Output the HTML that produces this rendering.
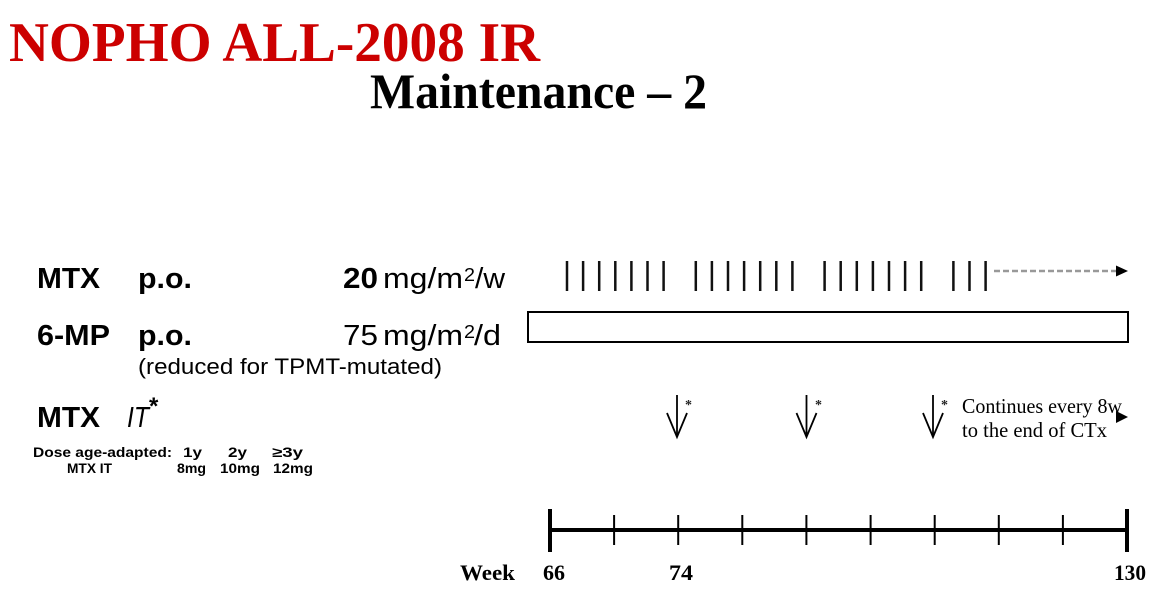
<!DOCTYPE html>
<html>
<head>
<meta charset="utf-8">
<style>
  html,body{margin:0;padding:0;background:#fff;}
  svg{display:block;}
  .serif{font-family:"Liberation Serif","Times New Roman",serif;font-weight:bold;}
  .sans{font-family:"Liberation Sans",Arial,sans-serif;}
</style>
</head>
<body>
<svg width="1158" height="594" viewBox="0 0 1158 594" xmlns="http://www.w3.org/2000/svg">
  <rect x="0" y="0" width="1158" height="594" fill="#fff"/>

  <!-- Titles -->
  <text class="serif" x="9" y="61" font-size="56" fill="#cc0000" textLength="531" lengthAdjust="spacingAndGlyphs">NOPHO ALL-2008 IR</text>
  <text class="serif" x="370" y="108" font-size="50" fill="#000" textLength="337" lengthAdjust="spacingAndGlyphs">Maintenance – 2</text>

  <!-- Row 1 -->
  <text class="sans" x="37" y="288" font-size="29" font-weight="bold" textLength="63" lengthAdjust="spacingAndGlyphs">MTX</text>
  <text class="sans" x="138" y="288" font-size="29" font-weight="bold" textLength="54" lengthAdjust="spacingAndGlyphs">p.o.</text>
  <text class="sans" x="343" y="288" font-size="29" font-weight="bold" textLength="35" lengthAdjust="spacingAndGlyphs">20</text>
  <text class="sans" x="383" y="288" font-size="29" textLength="80" lengthAdjust="spacingAndGlyphs">mg/m</text>
  <text class="sans" x="464" y="281" font-size="18" textLength="11" lengthAdjust="spacingAndGlyphs">2</text>
  <text class="sans" x="475" y="288" font-size="29" textLength="30" lengthAdjust="spacingAndGlyphs">/w</text>

  <!-- Row 2 -->
  <text class="sans" x="37" y="345" font-size="29" font-weight="bold" textLength="73" lengthAdjust="spacingAndGlyphs">6-MP</text>
  <text class="sans" x="138" y="345" font-size="29" font-weight="bold" textLength="54" lengthAdjust="spacingAndGlyphs">p.o.</text>
  <text class="sans" x="343" y="345" font-size="29" textLength="35" lengthAdjust="spacingAndGlyphs">75</text>
  <text class="sans" x="383" y="345" font-size="29" textLength="80" lengthAdjust="spacingAndGlyphs">mg/m</text>
  <text class="sans" x="464" y="338" font-size="18" textLength="11" lengthAdjust="spacingAndGlyphs">2</text>
  <text class="sans" x="474" y="345" font-size="29" textLength="27" lengthAdjust="spacingAndGlyphs">/d</text>
  <text class="sans" x="138" y="374" font-size="22" textLength="304" lengthAdjust="spacingAndGlyphs">(reduced for TPMT-mutated)</text>

  <!-- Row 3 -->
  <text class="sans" x="37" y="427" font-size="29" font-weight="bold" textLength="63" lengthAdjust="spacingAndGlyphs">MTX</text>
  <text class="sans" x="127" y="427" font-size="29" font-style="italic" textLength="22" lengthAdjust="spacingAndGlyphs">IT</text>
  <text class="sans" x="149" y="414" font-size="24" font-weight="bold">*</text>

  <!-- Small dose text -->
  <g class="sans" font-size="14" font-weight="bold" fill="#000">
    <text x="33" y="457" textLength="139" lengthAdjust="spacingAndGlyphs">Dose age-adapted:</text>
    <text x="183" y="457" textLength="19" lengthAdjust="spacingAndGlyphs">1y</text>
    <text x="228" y="457" textLength="19" lengthAdjust="spacingAndGlyphs">2y</text>
    <text x="272" y="457" textLength="31" lengthAdjust="spacingAndGlyphs">≥3y</text>
    <text x="67" y="473" textLength="45" lengthAdjust="spacingAndGlyphs">MTX IT</text>
    <text x="177" y="473" textLength="29" lengthAdjust="spacingAndGlyphs">8mg</text>
    <text x="220" y="473" textLength="40" lengthAdjust="spacingAndGlyphs">10mg</text>
    <text x="273" y="473" textLength="40" lengthAdjust="spacingAndGlyphs">12mg</text>
  </g>

  <!-- MTX weekly ticks -->
  <g stroke="#111" stroke-width="2.5">
    <line x1="567" y1="261" x2="567" y2="291"/>
    <line x1="583.1" y1="261" x2="583.1" y2="291"/>
    <line x1="599.2" y1="261" x2="599.2" y2="291"/>
    <line x1="615.3" y1="261" x2="615.3" y2="291"/>
    <line x1="631.4" y1="261" x2="631.4" y2="291"/>
    <line x1="647.5" y1="261" x2="647.5" y2="291"/>
    <line x1="663.6" y1="261" x2="663.6" y2="291"/>

    <line x1="695.8" y1="261" x2="695.8" y2="291"/>
    <line x1="711.9" y1="261" x2="711.9" y2="291"/>
    <line x1="728" y1="261" x2="728" y2="291"/>
    <line x1="744.1" y1="261" x2="744.1" y2="291"/>
    <line x1="760.2" y1="261" x2="760.2" y2="291"/>
    <line x1="776.3" y1="261" x2="776.3" y2="291"/>
    <line x1="792.4" y1="261" x2="792.4" y2="291"/>

    <line x1="824.6" y1="261" x2="824.6" y2="291"/>
    <line x1="840.7" y1="261" x2="840.7" y2="291"/>
    <line x1="856.8" y1="261" x2="856.8" y2="291"/>
    <line x1="872.9" y1="261" x2="872.9" y2="291"/>
    <line x1="889" y1="261" x2="889" y2="291"/>
    <line x1="905.1" y1="261" x2="905.1" y2="291"/>
    <line x1="921.2" y1="261" x2="921.2" y2="291"/>

    <line x1="953.4" y1="261" x2="953.4" y2="291"/>
    <line x1="969.5" y1="261" x2="969.5" y2="291"/>
    <line x1="985.6" y1="261" x2="985.6" y2="291"/>
  </g>
  <!-- dashed continuation arrow -->
  <line x1="994" y1="271" x2="1116" y2="271" stroke="#999" stroke-width="2.5" stroke-dasharray="6,3"/>
  <polygon points="1116,265.5 1128,271 1116,276.5" fill="#000"/>

  <!-- 6-MP bar -->
  <rect x="528" y="312" width="600" height="30" fill="#fff" stroke="#000" stroke-width="2"/>

  <!-- IT arrows -->
  <g stroke="#000" stroke-width="1.8" fill="none">
    <line x1="677" y1="395" x2="677" y2="437"/>
    <polyline points="667,413 677,437 687,413"/>
    <line x1="806.5" y1="395" x2="806.5" y2="437"/>
    <polyline points="796.5,413 806.5,437 816.5,413"/>
    <line x1="933" y1="395" x2="933" y2="437"/>
    <polyline points="923,413 933,437 943,413"/>
  </g>
  <g class="serif" font-size="14" font-weight="normal" fill="#222">
    <text x="685" y="409">*</text>
    <text x="815" y="409">*</text>
    <text x="941" y="409">*</text>
  </g>
  <g font-family="'Liberation Serif','Times New Roman',serif" font-size="21" fill="#000">
    <text x="962" y="413" textLength="160" lengthAdjust="spacingAndGlyphs">Continues every 8w</text>
    <text x="962" y="437" textLength="145" lengthAdjust="spacingAndGlyphs">to the end of CTx</text>
  </g>
  <polygon points="1116,411 1128,417 1116,423" fill="#000"/>

  <!-- Timeline -->
  <line x1="550" y1="530" x2="1127" y2="530" stroke="#000" stroke-width="4"/>
  <line x1="550" y1="509" x2="550" y2="552" stroke="#000" stroke-width="4"/>
  <line x1="1127" y1="509" x2="1127" y2="552" stroke="#000" stroke-width="4"/>
  <g stroke="#000" stroke-width="2">
    <line x1="614.1" y1="515" x2="614.1" y2="545"/>
    <line x1="678.2" y1="515" x2="678.2" y2="545"/>
    <line x1="742.3" y1="515" x2="742.3" y2="545"/>
    <line x1="806.4" y1="515" x2="806.4" y2="545"/>
    <line x1="870.6" y1="515" x2="870.6" y2="545"/>
    <line x1="934.7" y1="515" x2="934.7" y2="545"/>
    <line x1="998.8" y1="515" x2="998.8" y2="545"/>
    <line x1="1062.9" y1="515" x2="1062.9" y2="545"/>
  </g>
  <g class="serif" font-size="22" fill="#000">
    <text x="460" y="580" textLength="55" lengthAdjust="spacingAndGlyphs">Week</text>
    <text x="543" y="580" textLength="22" lengthAdjust="spacingAndGlyphs">66</text>
    <text x="669" y="580" textLength="24" lengthAdjust="spacingAndGlyphs">74</text>
    <text x="1114" y="580" textLength="32" lengthAdjust="spacingAndGlyphs">130</text>
  </g>
</svg>
</body>
</html>
